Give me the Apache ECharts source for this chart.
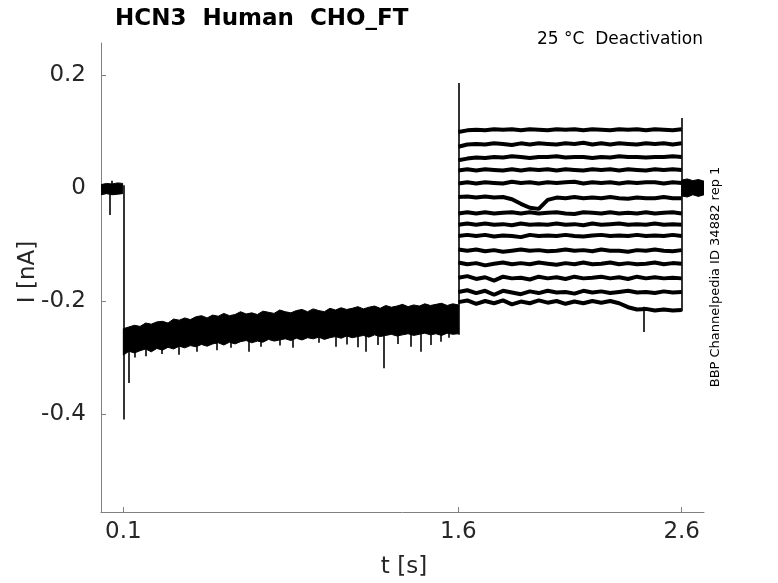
<!DOCTYPE html>
<html>
<head>
<meta charset="utf-8">
<script src="https://cdn.jsdelivr.net/npm/echarts@6.0.0/dist/echarts.min.js"></script>
<style>
html,body{margin:0;padding:0;background:#fff;}
#c{width:778px;height:583px;}
</style>
</head>
<body>
<div id="c"></div>
<script>
// ---- axis ticks ----
var xTicks = [0.1, 1.6, 2.6];
var yTicks = [-0.4, -0.2, 0, 0.2];

// ---- holding segment 0 - 0.1 s (noise envelope) ----
var tHold = [0.000, 0.025, 0.050, 0.075, 0.097];
var holdTop = [0.006, 0.008, 0.007, 0.009, 0.008];
var holdBot = [-0.012, -0.010, -0.012, -0.011, -0.010];

// ---- prepulse 0.1 - 1.6 s, envelope of the overlapping sweeps ----
var tPre = [0.100,0.125,0.150,0.175,0.200,0.225,0.250,0.275,0.300,0.325,0.350,0.375,0.400,0.425,0.450,0.475,0.500,0.525,0.550,0.575,0.600,0.625,0.650,0.675,0.700,0.725,0.750,0.775,0.800,0.825,0.850,0.875,0.900,0.925,0.950,0.975,1.000,1.025,1.050,1.075,1.100,1.125,1.150,1.175,1.200,1.225,1.250,1.275,1.300,1.325,1.350,1.375,1.400,1.425,1.450,1.475,1.500,1.525,1.550,1.575,1.600];
var preTop = [-0.249,-0.246,-0.243,-0.245,-0.239,-0.241,-0.237,-0.236,-0.239,-0.232,-0.234,-0.230,-0.233,-0.228,-0.226,-0.230,-0.225,-0.227,-0.222,-0.226,-0.224,-0.219,-0.223,-0.221,-0.224,-0.218,-0.220,-0.222,-0.216,-0.219,-0.221,-0.217,-0.215,-0.219,-0.214,-0.217,-0.219,-0.213,-0.216,-0.212,-0.215,-0.213,-0.210,-0.214,-0.211,-0.209,-0.213,-0.208,-0.211,-0.209,-0.206,-0.210,-0.207,-0.209,-0.205,-0.208,-0.206,-0.204,-0.208,-0.205,-0.207];
var preBot = [-0.296,-0.289,-0.292,-0.288,-0.285,-0.290,-0.284,-0.287,-0.282,-0.285,-0.280,-0.283,-0.279,-0.281,-0.277,-0.280,-0.276,-0.274,-0.278,-0.273,-0.276,-0.272,-0.270,-0.274,-0.271,-0.273,-0.268,-0.271,-0.269,-0.267,-0.270,-0.266,-0.269,-0.265,-0.267,-0.264,-0.268,-0.265,-0.263,-0.266,-0.262,-0.265,-0.263,-0.261,-0.264,-0.260,-0.263,-0.261,-0.259,-0.262,-0.260,-0.258,-0.261,-0.259,-0.257,-0.260,-0.258,-0.261,-0.257,-0.259,-0.258];

// ---- spikes / transients: [t, from, to] ----
var spikes = [
  [0.040, -0.008, -0.048],
  [0.050, 0.006, 0.013],
  [0.100, 0.005, -0.410],
  [0.123, -0.270, -0.345],
  [0.150, -0.280, -0.300],
  [0.200, -0.280, -0.298],
  [0.270, -0.275, -0.294],
  [0.350, -0.270, -0.295],
  [0.430, -0.268, -0.290],
  [0.520, -0.265, -0.287],
  [0.580, -0.265, -0.283],
  [0.660, -0.260, -0.290],
  [0.714, -0.260, -0.281],
  [0.800, -0.260, -0.279],
  [0.860, -0.258, -0.283],
  [0.973, -0.255, -0.274],
  [1.050, -0.255, -0.281],
  [1.100, -0.255, -0.277],
  [1.150, -0.255, -0.282],
  [1.184, -0.255, -0.290],
  [1.238, -0.255, -0.278],
  [1.265, -0.250, -0.319],
  [1.330, -0.250, -0.276],
  [1.386, -0.250, -0.281],
  [1.430, -0.250, -0.290],
  [1.475, -0.250, -0.278],
  [1.520, -0.250, -0.272],
  [1.557, -0.250, -0.265],
  [1.600, -0.260, 0.186],
  [2.430, -0.210, -0.255],
  [2.600, -0.218, 0.124]
];

// ---- test pulse 1.6 - 2.6 s, one trace per sweep ----
var tTest = [1.60,1.64,1.68,1.72,1.76,1.80,1.84,1.88,1.92,1.96,2.00,2.04,2.08,2.12,2.16,2.20,2.24,2.28,2.32,2.36,2.40,2.44,2.48,2.52,2.56,2.60];
var sweep1 = [0.099,0.102,0.103,0.102,0.104,0.103,0.104,0.102,0.104,0.103,0.102,0.104,0.103,0.104,0.102,0.104,0.103,0.102,0.104,0.103,0.104,0.102,0.104,0.103,0.102,0.104];
var sweep2 = [0.073,0.077,0.078,0.077,0.079,0.078,0.076,0.079,0.077,0.079,0.078,0.077,0.079,0.078,0.080,0.077,0.079,0.077,0.079,0.078,0.077,0.079,0.078,0.079,0.077,0.079];
var sweep3 = [0.049,0.052,0.054,0.053,0.055,0.054,0.056,0.055,0.053,0.055,0.055,0.056,0.054,0.055,0.055,0.053,0.055,0.054,0.056,0.055,0.055,0.054,0.055,0.055,0.056,0.055];
var sweep4 = [0.031,0.033,0.031,0.033,0.032,0.031,0.033,0.031,0.033,0.032,0.033,0.031,0.033,0.032,0.031,0.033,0.032,0.033,0.031,0.033,0.032,0.031,0.033,0.032,0.033,0.032];
var sweep5 = [0.008,0.010,0.008,0.010,0.009,0.008,0.011,0.009,0.010,0.008,0.010,0.009,0.010,0.011,0.008,0.010,0.009,0.010,0.008,0.010,0.009,0.010,0.010,0.008,0.010,0.009];
var sweep6 = [-0.016,-0.015,-0.017,-0.015,-0.017,-0.016,-0.020,-0.028,-0.035,-0.037,-0.021,-0.017,-0.018,-0.016,-0.018,-0.017,-0.018,-0.016,-0.018,-0.019,-0.017,-0.018,-0.018,-0.016,-0.018,-0.018];
var sweep7 = [-0.045,-0.043,-0.045,-0.043,-0.045,-0.044,-0.043,-0.045,-0.043,-0.045,-0.044,-0.043,-0.045,-0.046,-0.043,-0.044,-0.045,-0.043,-0.045,-0.044,-0.045,-0.043,-0.045,-0.044,-0.043,-0.045];
var sweep8 = [-0.065,-0.063,-0.065,-0.063,-0.065,-0.064,-0.066,-0.063,-0.065,-0.064,-0.065,-0.063,-0.065,-0.064,-0.066,-0.063,-0.065,-0.064,-0.063,-0.065,-0.064,-0.065,-0.063,-0.065,-0.064,-0.065];
var sweep9 = [-0.085,-0.083,-0.085,-0.083,-0.086,-0.084,-0.085,-0.087,-0.083,-0.085,-0.084,-0.085,-0.083,-0.085,-0.086,-0.084,-0.083,-0.085,-0.084,-0.085,-0.083,-0.085,-0.084,-0.085,-0.083,-0.085];
var sweep10 = [-0.109,-0.111,-0.109,-0.112,-0.110,-0.113,-0.111,-0.109,-0.111,-0.110,-0.112,-0.111,-0.109,-0.111,-0.110,-0.112,-0.109,-0.111,-0.111,-0.113,-0.110,-0.111,-0.109,-0.111,-0.112,-0.110];
var sweep11 = [-0.132,-0.135,-0.133,-0.137,-0.134,-0.132,-0.135,-0.133,-0.135,-0.132,-0.134,-0.136,-0.133,-0.135,-0.132,-0.135,-0.134,-0.132,-0.135,-0.133,-0.135,-0.134,-0.132,-0.135,-0.133,-0.134];
var sweep12 = [-0.159,-0.156,-0.161,-0.158,-0.164,-0.157,-0.160,-0.159,-0.162,-0.157,-0.160,-0.158,-0.161,-0.157,-0.160,-0.159,-0.157,-0.160,-0.158,-0.161,-0.157,-0.160,-0.158,-0.160,-0.159,-0.160];
var sweep13 = [-0.184,-0.181,-0.186,-0.182,-0.189,-0.182,-0.185,-0.188,-0.183,-0.186,-0.182,-0.185,-0.184,-0.187,-0.182,-0.185,-0.183,-0.186,-0.184,-0.182,-0.185,-0.184,-0.186,-0.183,-0.185,-0.184];
var sweep14 = [-0.202,-0.199,-0.205,-0.200,-0.204,-0.199,-0.206,-0.201,-0.204,-0.199,-0.203,-0.200,-0.205,-0.201,-0.204,-0.200,-0.203,-0.200,-0.204,-0.211,-0.215,-0.214,-0.217,-0.215,-0.217,-0.216];

// ---- tail 2.6 - 2.7 s (noise envelope) ----
var tTail = [2.600, 2.625, 2.650, 2.675, 2.700];
var tailTop = [0.014, 0.016, 0.013, 0.015, 0.012];
var tailBot = [-0.014, -0.016, -0.012, -0.015, -0.012];

var sweeps = [sweep1,sweep2,sweep3,sweep4,sweep5,sweep6,sweep7,sweep8,sweep9,sweep10,sweep11,sweep12,sweep13,sweep14];

function bandSeries(ts, top, bot) {
  return {
    type:'custom', silent:true, z:3, clip:true,
    data:[[ts[0], top[0]]],
    renderItem:function(params, api){
      var pts = [];
      for (var i = 0; i < ts.length; i++) pts.push(api.coord([ts[i], top[i]]));
      for (var j = ts.length - 1; j >= 0; j--) pts.push(api.coord([ts[j], bot[j]]));
      return {type:'polygon', shape:{points:pts}, style:{fill:'#000', stroke:'#000', lineWidth:1}};
    }
  };
}

var series = [];
series.push(bandSeries(tHold, holdTop, holdBot));
series.push(bandSeries(tPre, preTop, preBot));
series.push(bandSeries(tTail, tailTop, tailBot));
sweeps.forEach(function(s, k){
  series.push({
    type:'line', name:'sweep'+(k+1), symbol:'none', silent:true,
    data: tTest.map(function(t,i){ return [t, s[i]]; }),
    lineStyle:{color:'#000', width:4}, z:4
  });
});
series.push({
  type:'lines', coordinateSystem:'cartesian2d', silent:true, z:5,
  lineStyle:{color:'#000', width:1.6, opacity:1},
  data: spikes.map(function(s){ return {coords:[[s[0], s[1]], [s[0], s[2]]]}; })
});

var axisColor = '#808080';
var labelFont = {color:'#262626', fontSize:23, fontFamily:'DejaVu Sans'};

var option = {
  animation:false,
  backgroundColor:'#fff',
  grid:{left:101, right:74, top:43, bottom:71, containLabel:false},
  xAxis:{
    type:'value', min:0, max:2.7,
    axisLine:{show:true, onZero:false, lineStyle:{color:axisColor, width:1}},
    axisTick:{show:true, inside:true, length:5, customValues:xTicks, lineStyle:{color:axisColor}},
    axisLabel:Object.assign({customValues:xTicks, margin:9, formatter:function(v){return String(v);}}, labelFont),
    splitLine:{show:false}
  },
  yAxis:{
    type:'value', min:-0.5735, max:0.2566,
    axisLine:{show:true, onZero:false, lineStyle:{color:axisColor, width:1}},
    axisTick:{show:true, inside:true, length:5, customValues:yTicks, lineStyle:{color:axisColor}},
    axisLabel:Object.assign({customValues:yTicks, margin:15, formatter:function(v){return String(Math.round(v*10)/10);}}, labelFont),
    splitLine:{show:false}
  },
  graphic:[
    {type:'text', x:115, y:19, style:{text:'HCN3  Human  CHO_FT', font:'bold 23px "DejaVu Sans"', fill:'#000', align:'left', verticalAlign:'middle', textAlign:'left', textVerticalAlign:'middle'}},
    {type:'text', x:703, y:40, style:{text:'25 °C  Deactivation', font:'17px "DejaVu Sans"', fill:'#000', align:'right', verticalAlign:'middle', textAlign:'right', textVerticalAlign:'middle'}},
    {type:'text', x:716, y:277, rotation:Math.PI/2, style:{text:'BBP Channelpedia ID 34882 rep 1', font:'13px "DejaVu Sans"', fill:'#000', align:'center', verticalAlign:'middle', textAlign:'center', textVerticalAlign:'middle'}},
    {type:'text', x:28, y:272, rotation:Math.PI/2, style:{text:'I [nA]', font:'23px "DejaVu Sans"', fill:'#262626', align:'center', verticalAlign:'middle', textAlign:'center', textVerticalAlign:'middle'}},
    {type:'text', x:404, y:567, style:{text:'t [s]', font:'23px "DejaVu Sans"', fill:'#262626', align:'center', verticalAlign:'middle', textAlign:'center', textVerticalAlign:'middle'}}
  ],
  series:series
};

var chart = echarts.init(document.getElementById('c'), null, {renderer:'canvas'});
chart.setOption(option);
</script>
</body>
</html>
